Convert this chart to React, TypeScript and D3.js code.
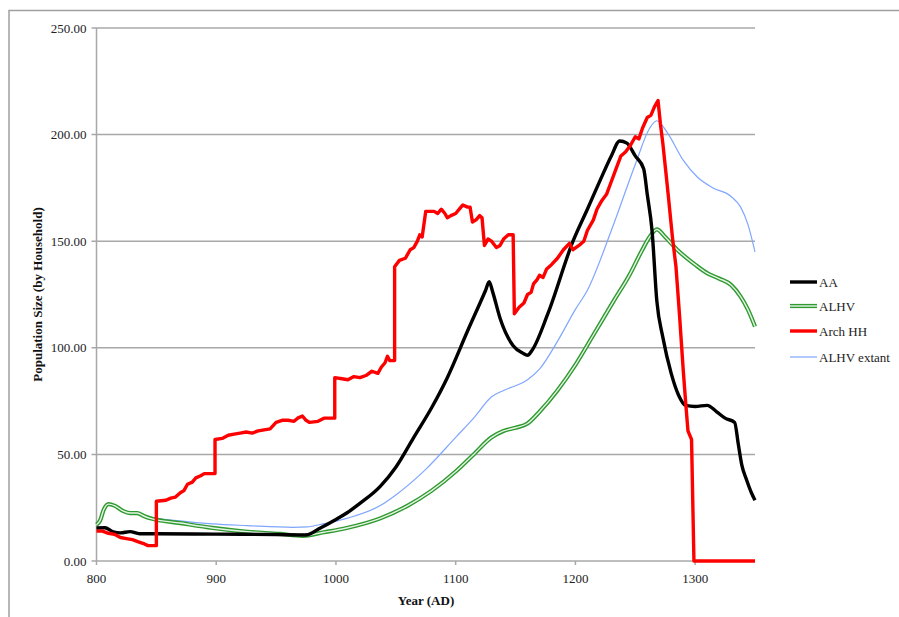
import * as d3 from 'd3';
import { useMemo } from 'react';

const yearTicks = [800, 900, 1000, 1100, 1200, 1300];
const valueTicks = [0, 50, 100, 150, 200, 250];

const aaYears = [800, 807, 814, 820, 828, 836, 850, 900, 950, 975, 987, 1000, 1009, 1020, 1037, 1050, 1065, 1080, 1093, 1110, 1125, 1128, 1131, 1137, 1148, 1156, 1160, 1164, 1177, 1198, 1210, 1221, 1230, 1237, 1243, 1250, 1257, 1260, 1264, 1268, 1273, 1280, 1286, 1292, 1300, 1310, 1318, 1325, 1333, 1336, 1339, 1343, 1347, 1350];
const aaValues = [15.5, 15.6, 13.7, 13.2, 13.8, 12.8, 12.8, 12.6, 12.4, 12.2, 15.5, 19.5, 22.5, 27, 35, 44, 58, 72, 86, 108, 127, 131, 126, 114, 101, 97.5, 96.5, 99, 116, 150, 165, 179, 190, 197, 196, 190, 184, 172, 155, 122, 105, 88, 78, 73, 72.5, 73, 70, 67, 65, 55, 45, 38, 32, 28.5];

const alhvYears = [800, 803, 806, 810, 815, 822, 828, 834, 840, 845, 870, 897, 926, 953, 972, 990, 1009, 1037, 1060, 1080, 1100, 1115, 1130, 1140, 1150, 1160, 1170, 1185, 1200, 1215, 1232, 1245, 1255, 1262, 1268, 1275, 1285, 1300, 1310, 1320, 1330, 1338, 1344, 1350];
const alhvValues = [17, 19, 24, 26.7, 26, 23.5, 22.5, 22.5, 21, 20, 17.8, 15.5, 13.7, 12.7, 11.8, 13.5, 15.5, 20, 26, 33, 42, 50, 58, 61, 62.5, 64.5, 70, 80, 92, 106, 122, 134, 145, 152, 155.5, 152, 146, 139, 135, 132.5, 129.5, 124, 118, 110];

const archYears = [800, 805, 810, 815, 820, 825, 830, 835, 840, 843, 850, 850, 858, 862, 866, 870, 873, 876, 880, 883, 887, 890, 899, 899, 905, 910, 915, 920, 925, 930, 935, 940, 945, 950, 955, 960, 965, 968, 972, 975, 978, 985, 990, 999, 999, 1005, 1010, 1015, 1020, 1025, 1030, 1035, 1038, 1041, 1043, 1045, 1049, 1049, 1053, 1058, 1062, 1065, 1068, 1070, 1072, 1075, 1082, 1085, 1088, 1091, 1093, 1096, 1100, 1103, 1106, 1110, 1112, 1114, 1117, 1120, 1122, 1124, 1127, 1130, 1134, 1137, 1140, 1144, 1148, 1149, 1153, 1157, 1160, 1163, 1165, 1168, 1170, 1173, 1176, 1180, 1185, 1190, 1195, 1198, 1203, 1207, 1210, 1215, 1218, 1222, 1226, 1230, 1234, 1238, 1242, 1246, 1250, 1253, 1256, 1260, 1263, 1266, 1269, 1271, 1273, 1276, 1278, 1281, 1284, 1287, 1290, 1292, 1294, 1297, 1299, 1350];
const archValues = [14, 14, 13, 12.5, 11, 10.5, 10, 9, 8, 7.2, 7.2, 28, 28.5, 29.5, 30, 32, 33, 36, 37, 39, 40, 41, 41, 57, 57.5, 59, 59.5, 60, 60.5, 60, 61, 61.5, 62, 65, 66, 66, 65.5, 67, 68, 66, 65, 65.5, 67, 67, 86, 85.5, 85, 86.5, 86, 87, 89, 88, 91, 93, 96, 94, 94, 138, 141, 142, 146, 147, 150, 153, 152, 164, 164, 163, 165, 163, 161, 162, 163, 165, 167, 166, 166, 159, 160, 162, 161, 148, 151, 150, 147, 148, 151, 153, 153, 116, 119, 121, 125, 126, 130, 132, 134, 133, 137, 139, 142, 146, 149, 146, 148, 150, 155, 160, 165, 169, 172, 178, 184, 190, 192, 195, 199, 198, 203, 208, 209, 213, 216, 205, 196, 180, 169, 152, 138, 115, 90, 75, 61, 57, 0, 0];

const extantYears = [800, 803, 806, 810, 815, 822, 828, 834, 842, 870, 897, 926, 964, 976, 990, 1009, 1037, 1050, 1075, 1100, 1115, 1130, 1140, 1160, 1170, 1185, 1200, 1210, 1230, 1250, 1262, 1268, 1277, 1290, 1302, 1315, 1330, 1338, 1344, 1350];
const extantValues = [17, 19, 24, 26.5, 26, 23.5, 22.5, 22.5, 21, 18.8, 17.4, 16.6, 15.8, 16, 17.5, 20, 26, 31, 43, 58, 67, 77, 80, 85, 90, 103, 118, 127, 155, 186, 203, 206.5, 200.7, 188, 180, 175, 171, 166, 158, 145];

const legendLabels = ['AA', 'ALHV', 'Arch HH', 'ALHV extant'];

const W = 899;
const H = 617;
const left = 96.5;
const right = 755;
const top = 28;
const bottom = 561;
const font = '"Liberation Serif", "Times New Roman", serif';
const gridColor = '#a8a8a8';

type Pt = [number, number];

export default function App() {
    const x = d3.scaleLinear().domain([800, 1350]).range([left, right]);
    const y = d3.scaleLinear().domain([0, 250]).range([bottom, top]);

    const paths = useMemo(() => {
        const zip = (a: number[], b: number[]): Pt[] => a.map((v, i) => [v, b[i]]);
        const smooth = d3
            .line<Pt>()
            .x((d) => x(d[0]))
            .y((d) => y(d[1]))
            .curve(d3.curveMonotoneX);
        const straight = d3
            .line<Pt>()
            .x((d) => x(d[0]))
            .y((d) => y(d[1]));
        return {
            aa: smooth(zip(aaYears, aaValues)) ?? '',
            alhv: smooth(zip(alhvYears, alhvValues)) ?? '',
            arch: straight(zip(archYears, archValues)) ?? '',
            extant: smooth(zip(extantYears, extantValues)) ?? '',
        };
    }, []);

    const legendY = [282, 306, 331, 357];

    return (
        <svg
            width={W}
            height={H}
            style={{ position: 'absolute', left: 0, top: 0, background: '#fff' }}
        >
            <rect x={9} y={10.5} width={W} height={H} fill="#fff" stroke="#a0a0a0" strokeWidth={1.5} />

            {valueTicks.map((v) => (
                <g key={v}>
                    <line x1={left - 5} x2={right} y1={y(v)} y2={y(v)} stroke={gridColor} strokeWidth={1.5} />
                    <text
                        x={left - 10}
                        y={y(v)}
                        dy="0.35em"
                        textAnchor="end"
                        fontFamily={font}
                        fontSize={13}
                        fill="#222"
                    >
                        {v.toFixed(2)}
                    </text>
                </g>
            ))}
            <line x1={left} x2={left} y1={top} y2={bottom} stroke={gridColor} strokeWidth={1.5} />
            {yearTicks.map((t) => (
                <g key={t}>
                    <line x1={x(t)} x2={x(t)} y1={bottom} y2={bottom + 4} stroke={gridColor} strokeWidth={1.5} />
                    <text x={x(t)} y={bottom + 22} textAnchor="middle" fontFamily={font} fontSize={13} fill="#222">
                        {t}
                    </text>
                </g>
            ))}

            <path d={paths.extant} fill="none" stroke="#7fa6ff" strokeWidth={1.2} />
            <path d={paths.alhv} fill="none" stroke="#2f9a2f" strokeWidth={4.2} strokeLinejoin="round" />
            <path d={paths.alhv} fill="none" stroke="#e6f4e6" strokeWidth={1.4} strokeLinejoin="round" />
            <path d={paths.aa} fill="none" stroke="#000" strokeWidth={3.4} strokeLinejoin="round" />
            <path d={paths.arch} fill="none" stroke="#ff0000" strokeWidth={3.4} strokeLinejoin="round" />

            <text
                x={426}
                y={605}
                textAnchor="middle"
                fontFamily={font}
                fontSize={13}
                fontWeight="bold"
                fill="#111"
            >
                Year (AD)
            </text>
            <text
                transform={`translate(42, ${(top + bottom) / 2}) rotate(-90)`}
                textAnchor="middle"
                fontFamily={font}
                fontSize={13}
                fontWeight="bold"
                fill="#111"
            >
                Population Size (by Household)
            </text>

            {legendLabels.map((label, i) => (
                <g key={label}>
                    {i === 0 && <line x1={790} x2={817} y1={legendY[i]} y2={legendY[i]} stroke="#000" strokeWidth={3.4} />}
                    {i === 1 && (
                        <>
                            <line x1={790} x2={817} y1={legendY[i]} y2={legendY[i]} stroke="#2f9a2f" strokeWidth={4.2} />
                            <line x1={790} x2={817} y1={legendY[i]} y2={legendY[i]} stroke="#e6f4e6" strokeWidth={1.4} />
                        </>
                    )}
                    {i === 2 && <line x1={790} x2={817} y1={legendY[i]} y2={legendY[i]} stroke="#ff0000" strokeWidth={3.4} />}
                    {i === 3 && <line x1={790} x2={817} y1={legendY[i]} y2={legendY[i]} stroke="#7fa6ff" strokeWidth={1.2} />}
                    <text x={819} y={legendY[i]} dy="0.35em" fontFamily={font} fontSize={13} fill="#222">
                        {label}
                    </text>
                </g>
            ))}
        </svg>
    );
}
